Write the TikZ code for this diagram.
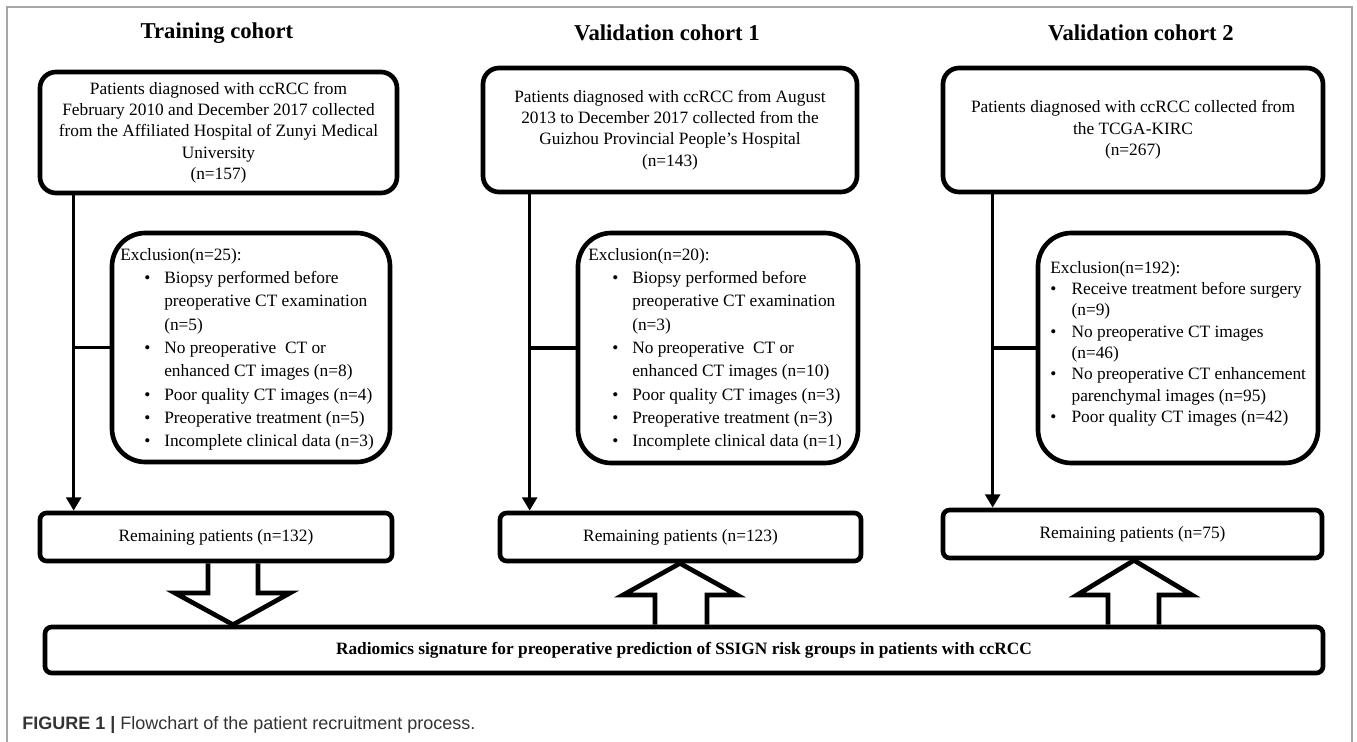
\documentclass[tikz,border=0pt]{standalone}
\usepackage{fontspec}
\setmainfont{Liberation Serif}
\newfontfamily\capfont{Liberation Sans}
\usetikzlibrary{arrows.meta}

\tikzset{
  title/.style={inner sep=0pt, font=\fontsize{17}{20}\selectfont\bfseries},
  cohort/.style={draw, line width=3.5pt, rounded corners=12pt, align=center, inner sep=0pt, font=\fontsize{13}{16}\selectfont},
  exclbox/.style={draw, line width=3.5pt, rounded corners=25pt, inner sep=0pt},
  excltext/.style={anchor=base west, inner sep=0pt, font=\fontsize{13}{17.5}\selectfont},
  remain/.style={draw, line width=3.5pt, rounded corners=5pt, inner sep=0pt, font=\fontsize{13}{16}\selectfont},
  flow/.style={line width=2.6pt, -{Triangle[length=10pt,width=11pt]}},
  branch/.style={line width=2.6pt},
  bigarrow/.style={line width=3.5pt, line join=miter},
}

\begin{document}
\begin{tikzpicture}[x=0.75pt,y=0.75pt,yscale=-1]
\useasboundingbox (0,0) rectangle (1357,742);

% frame
\draw[gray!70, line width=1pt] (7,742) -- (7,7) -- (1352,7) -- (1352,742);

% Titles
\node[title] (t1) at (217,33) {Training cohort};
\node[title] (t2) at (667,33) {Validation cohort 1};
\node[title] (t3) at (1141,33) {Validation cohort 2};

% Cohort boxes
\node[cohort, minimum width=267.75pt, minimum height=90.75pt] (top1) at (218.5,132.5) {Patients diagnosed with ccRCC from\\February 2010 and December 2017 collected\\from the Affiliated Hospital of Zunyi Medical\\University\\(n=157)};
\node[cohort, minimum width=280.5pt, minimum height=93pt] (top2) at (670,130) {Patients diagnosed with ccRCC from August\\2013 to December 2017 collected from the\\Guizhou Provincial People's Hospital\\(n=143)};
\node[cohort, minimum width=285pt, minimum height=93pt] (top3) at (1133,130) {Patients diagnosed with ccRCC collected from\\the TCGA-KIRC\\(n=267)};

% Exclusion boxes
\node[exclbox, minimum width=208.5pt, minimum height=171.75pt] (ex1) at (251,347.5) {};
\node[exclbox, minimum width=210pt, minimum height=172.5pt] (ex2) at (718,348) {};
\node[exclbox, minimum width=210pt, minimum height=172.5pt] (ex3) at (1178,348) {};

\node[excltext] (ex1t) at (120,260) {\begin{tabular}[t]{@{\hspace{18pt}}p{15pt}@{}l@{}}
\multicolumn{2}{@{}l@{}}{Exclusion(n=25):}\\
\textbullet & Biopsy performed before\\
 & preoperative CT examination\\
 & (n=5)\\
\textbullet & No preoperative\ \ CT or\\
 & enhanced CT images (n=8)\\
\textbullet & Poor quality CT images (n=4)\\
\textbullet & Preoperative treatment (n=5)\\
\textbullet & Incomplete clinical data (n=3)
\end{tabular}};
\node[excltext] (ex2t) at (588,260) {\begin{tabular}[t]{@{\hspace{18pt}}p{15pt}@{}l@{}}
\multicolumn{2}{@{}l@{}}{Exclusion(n=20):}\\
\textbullet & Biopsy performed before\\
 & preoperative CT examination\\
 & (n=3)\\
\textbullet & No preoperative\ \ CT or\\
 & enhanced CT images (n=10)\\
\textbullet & Poor quality CT images (n=3)\\
\textbullet & Preoperative treatment (n=3)\\
\textbullet & Incomplete clinical data (n=1)
\end{tabular}};
\node[excltext, font=\fontsize{13}{16}\selectfont] (ex3t) at (1050,273) {\begin{tabular}[t]{@{}p{16pt}@{}l@{}}
\multicolumn{2}{@{}l@{}}{Exclusion(n=192):}\\
\textbullet & Receive treatment before surgery\\
 & (n=9)\\
\textbullet & No preoperative CT images\\
 & (n=46)\\
\textbullet & No preoperative CT enhancement\\
 & parenchymal images (n=95)\\
\textbullet & Poor quality CT images (n=42)
\end{tabular}};

% Remaining boxes
\node[remain, minimum width=264pt, minimum height=36pt] (rem1) at (216,537) {Remaining patients (n=132)};
\node[remain, minimum width=270.75pt, minimum height=36pt] (rem2) at (680.5,537) {Remaining patients (n=123)};
\node[remain, minimum width=284.25pt, minimum height=36pt] (rem3) at (1132.5,534) {Remaining patients (n=75)};

% Signature box
\node[remain, minimum width=958.5pt, minimum height=34.5pt, font=\fontsize{13}{16}\selectfont\bfseries] (bot) at (684,650) {Radiomics signature for preoperative prediction of SSIGN risk groups in patients with ccRCC};

% Flow lines
\coordinate (s1) at ([xshift=27pt]top1.south west);
\coordinate (s2) at ([xshift=36.75pt]top2.south west);
\coordinate (s3) at ([xshift=39pt]top3.south west);
\draw[flow] (s1) -- (s1 |- rem1.north);
\draw[flow] (s2) -- (s2 |- rem2.north);
\draw[flow] (s3) -- (s3 |- rem3.north);
\draw[branch] (s1 |- ex1.west) -- (ex1.west);
\draw[branch] (s2 |- ex2.west) -- (ex2.west);
\draw[branch] (s3 |- ex3.west) -- (ex3.west);

% Block arrows
\draw[bigarrow] (rem1.south -| 208,0) -- (208,593) -- (175,593) -- (bot.north -| 233,0) -- (290,593) -- (258,593) -- (rem1.south -| 258,0);
\draw[bigarrow] (bot.north -| 655,0) -- (655,595) -- (623,595) -- (rem2.south -| 680,0) -- (737,595) -- (707,595) -- (bot.north -| 707,0);
\draw[bigarrow] (bot.north -| 1108,0) -- (1108,595) -- (1077,595) -- (rem3.south -| 1134,0) -- (1192,595) -- (1159,595) -- (bot.north -| 1159,0);

% Caption
\node[anchor=west, inner sep=0pt, font=\capfont\fontsize{13.5}{16}\selectfont, text=black!80] (cap) at (22,725) {\textbf{FIGURE 1 |} Flowchart of the patient recruitment process.};

\end{tikzpicture}
\end{document}
